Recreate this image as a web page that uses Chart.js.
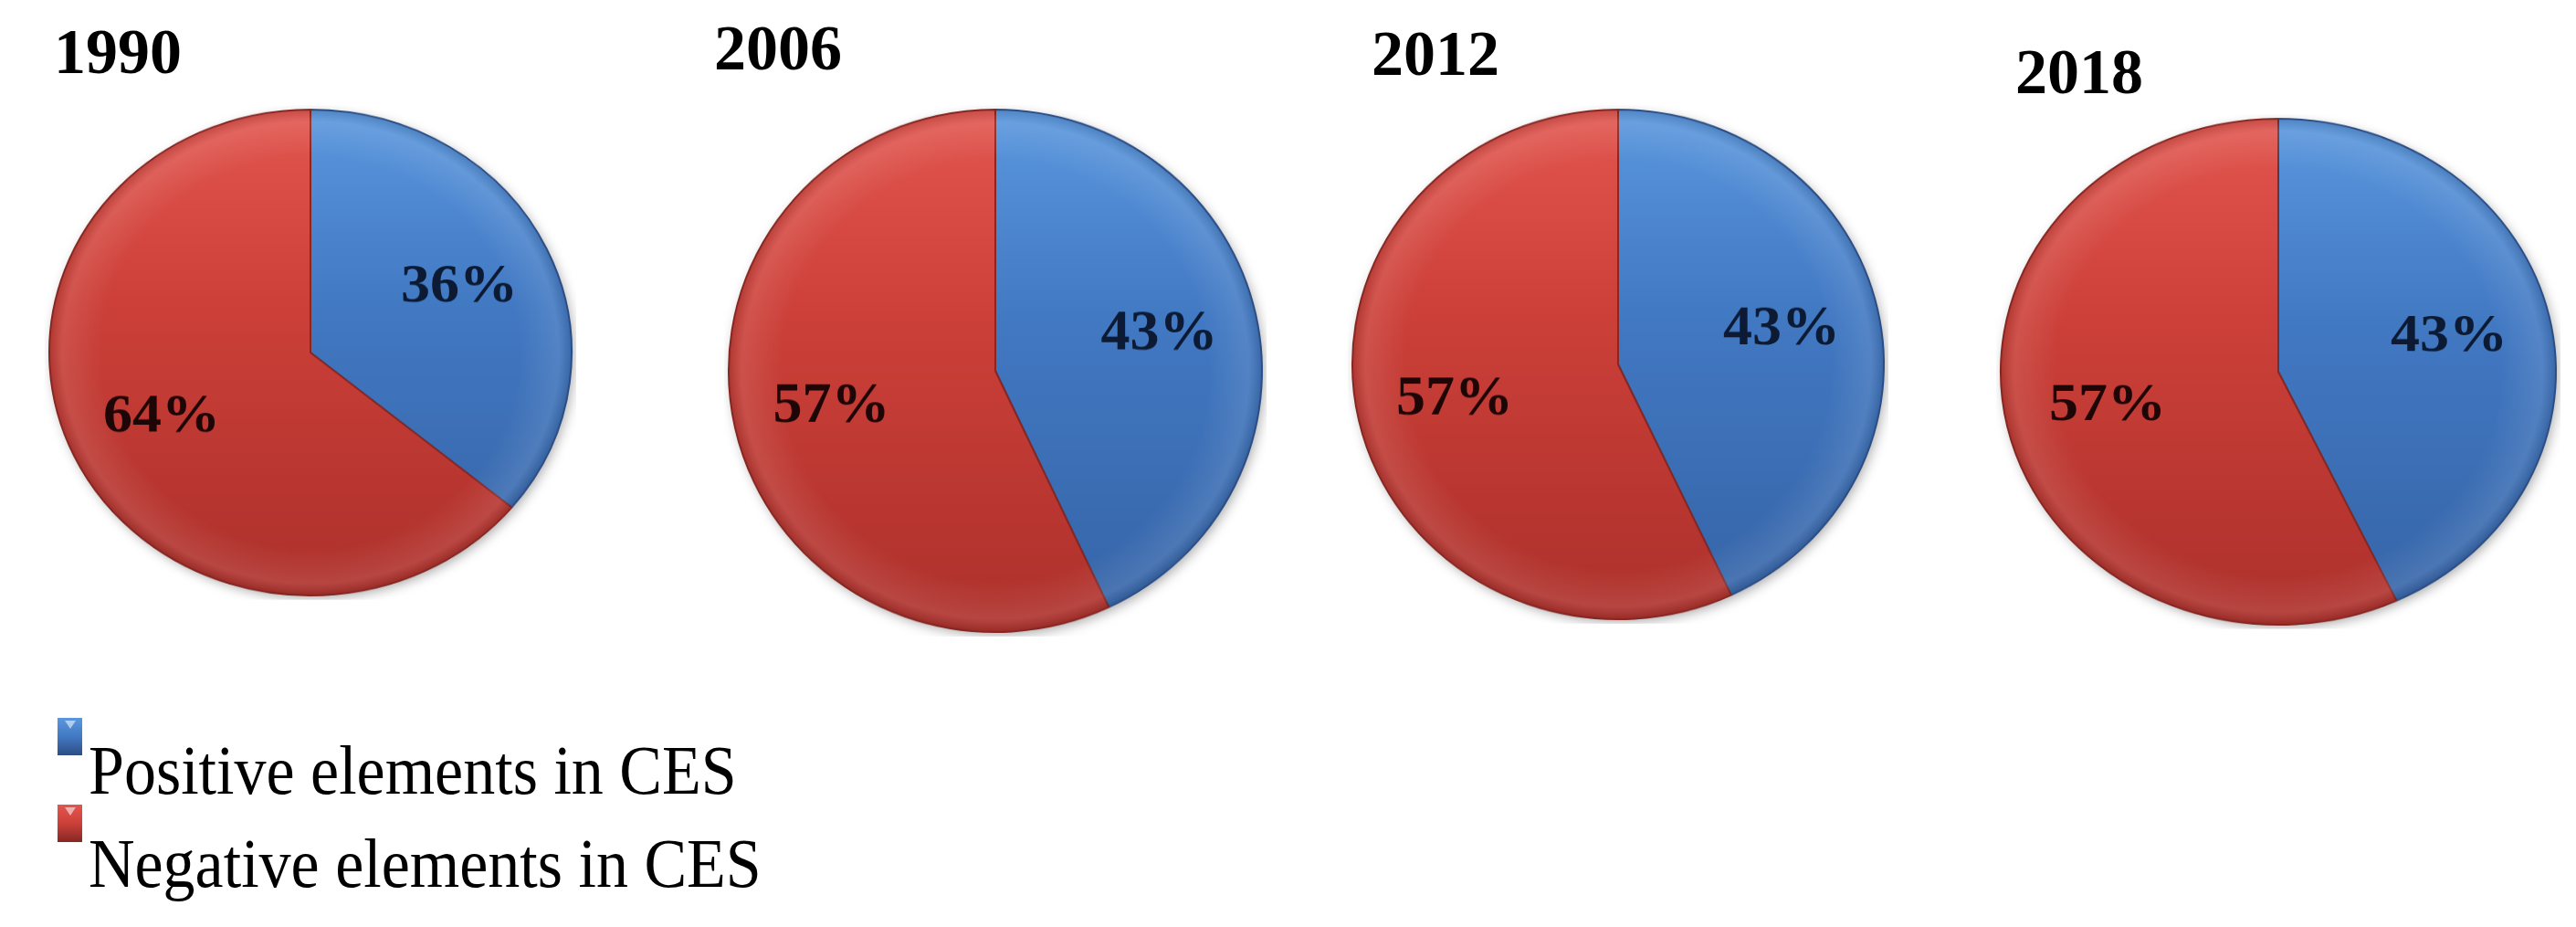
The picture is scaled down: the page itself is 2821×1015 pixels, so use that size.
<!DOCTYPE html>
<html>
<head>
<meta charset="utf-8">
<script src="https://cdn.jsdelivr.net/npm/chart.js@4.4.1/dist/chart.umd.min.js"></script>
<style>
  html, body { margin: 0; padding: 0; background: #fff; }
  body { width: 2821px; height: 1015px; position: relative; overflow: hidden; }
  .pie { position: absolute; }
  .year { position: absolute; font: bold 70px "Liberation Serif", "Times New Roman", serif; line-height: 70px; color: #000; }
  .legend-item { position: absolute; left: 97px; font: 70px "Liberation Serif", "Times New Roman", serif; line-height: 70px; color: #000; white-space: nowrap; transform-origin: left bottom; transform: scaleY(1.1); }
  .swatch { position: absolute; left: 63px; width: 27px; height: 41px; }
  .swatch::after { content: ''; position: absolute; left: 8px; top: 3px; border-left: 6px solid transparent; border-right: 6px solid transparent; border-top: 9px solid rgba(255,255,255,0.55); }
</style>
</head>
<body>

<script>
// data
const years = ['1990', '2006', '2012', '2018'];
const categories = ['Positive elements in CES', 'Negative elements in CES'];
const positive = [36, 43, 43, 43];
const negative = [64, 57, 57, 57];

// layout of each pie on the page (centre, horizontal / vertical radius)
const pieBoxes = [
  { cx: 340, cy: 386, rx: 286, ry: 266, titleX: 59, titleBase: 81 },
  { cx: 1090, cy: 406, rx: 292, ry: 286, titleX: 782, titleBase: 77 },
  { cx: 1772, cy: 399, rx: 291, ry: 279, titleX: 1502, titleBase: 83 },
  { cx: 2495, cy: 407, rx: 304, ry: 277, titleX: 2207, titleBase: 103 }
];

const palette = {
  blue: { top: '#5a97de', mid: '#4279c3', bot: '#3563a6', edge: '#2c4d84', text: '#0c1a33' },
  red: { top: '#e2564f', mid: '#cc4039', bot: '#ad302b', edge: '#852723', text: '#1f0606' }
};
const sliceColors = [palette.blue, palette.red];

function sliceFill(ctx) {
  const c = sliceColors[ctx.dataIndex] || palette.blue;
  const area = ctx.chart.chartArea;
  if (!area) return c.mid;
  const g = ctx.chart.ctx.createLinearGradient(0, area.top, 0, area.bottom);
  g.addColorStop(0, c.top);
  g.addColorStop(0.4, c.mid);
  g.addColorStop(1, c.bot);
  return g;
}

const shadowPlugin = {
  id: 'shadow',
  beforeDatasetsDraw(chart) {
    const arc = chart.getDatasetMeta(0).data[0];
    if (!arc) return;
    const { x, y, outerRadius } = arc.getProps(['x', 'y', 'outerRadius'], true);
    const ctx = chart.ctx;
    ctx.save();
    ctx.shadowColor = 'rgba(0,0,0,0.35)';
    ctx.shadowBlur = 14;
    ctx.shadowOffsetX = 3;
    ctx.shadowOffsetY = 4;
    ctx.beginPath();
    ctx.arc(x, y, outerRadius - 1, 0, Math.PI * 2);
    ctx.fillStyle = '#fff';
    ctx.fill();
    ctx.restore();
  }
};

// soft bevel: lighter rim inside the edge, like the 3D look of the original
const bevelPlugin = {
  id: 'bevel',
  afterDatasetsDraw(chart) {
    const arc = chart.getDatasetMeta(0).data[0];
    if (!arc) return;
    const { x, y, outerRadius } = arc.getProps(['x', 'y', 'outerRadius'], true);
    const ctx = chart.ctx;
    ctx.save();
    const g = ctx.createRadialGradient(x, y, outerRadius * 0.8, x, y, outerRadius);
    g.addColorStop(0, 'rgba(255,255,255,0)');
    g.addColorStop(0.75, 'rgba(255,255,255,0.10)');
    g.addColorStop(1, 'rgba(0,0,0,0.12)');
    ctx.beginPath();
    ctx.arc(x, y, outerRadius - 1, 0, Math.PI * 2);
    ctx.fillStyle = g;
    ctx.fill();
    ctx.restore();
  }
};

const labelPlugin = {
  id: 'sliceLabels',
  afterDatasetsDraw(chart) {
    const ctx = chart.ctx;
    const ds = chart.data.datasets[0];
    chart.getDatasetMeta(0).data.forEach((arc, i) => {
      const p = arc.getProps(['x', 'y', 'startAngle', 'endAngle', 'outerRadius'], true);
      const mid = (p.startAngle + p.endAngle) / 2;
      const r = p.outerRadius * 0.63;
      ctx.save();
      ctx.font = 'bold 64px "Liberation Serif", "Times New Roman", serif';
      ctx.textAlign = 'center';
      ctx.textBaseline = 'middle';
      ctx.fillStyle = sliceColors[i].text;
      ctx.fillText(ds.data[i] + '%', p.x + Math.cos(mid) * r, p.y + Math.sin(mid) * r);
      ctx.restore();
    });
  }
};

years.forEach((year, i) => {
  const box = pieBoxes[i];
  const size = 2 * box.rx + 10;

  const title = document.createElement('div');
  title.className = 'year';
  title.textContent = year;
  title.style.left = box.titleX + 'px';
  title.style.top = (box.titleBase - 59) + 'px';
  document.body.appendChild(title);

  const canvas = document.createElement('canvas');
  canvas.className = 'pie';
  canvas.width = size;
  canvas.height = size;
  canvas.style.width = size + 'px';
  canvas.style.height = size + 'px';
  canvas.style.left = (box.cx - size / 2) + 'px';
  canvas.style.top = (box.cy - size / 2) + 'px';
  canvas.style.transform = 'scaleY(' + (box.ry / box.rx).toFixed(4) + ')';
  document.body.appendChild(canvas);

  new Chart(canvas.getContext('2d'), {
    type: 'pie',
    data: {
      labels: categories,
      datasets: [{
        data: [positive[i], negative[i]],
        backgroundColor: sliceFill,
        borderColor: sliceColors.map(c => c.edge),
        borderWidth: 2
      }]
    },
    options: {
      responsive: false,
      animation: false,
      layout: { padding: 4 },
      plugins: { legend: { display: false }, tooltip: { enabled: false } }
    },
    plugins: [shadowPlugin, bevelPlugin, labelPlugin]
  });
});

// legend
const legendRows = [
  { swatchTop: 786, textBase: 871 },
  { swatchTop: 881, textBase: 973 }
];
categories.forEach((name, i) => {
  const c = sliceColors[i];
  const sw = document.createElement('div');
  sw.className = 'swatch';
  sw.style.top = legendRows[i].swatchTop + 'px';
  sw.style.background = `linear-gradient(${c.top}, ${c.mid} 50%, ${c.edge})`;
  document.body.appendChild(sw);

  const t = document.createElement('div');
  t.className = 'legend-item';
  t.textContent = name;
  t.style.top = (legendRows[i].textBase - 59) + 'px';
  document.body.appendChild(t);
});
</script>
</body>
</html>
